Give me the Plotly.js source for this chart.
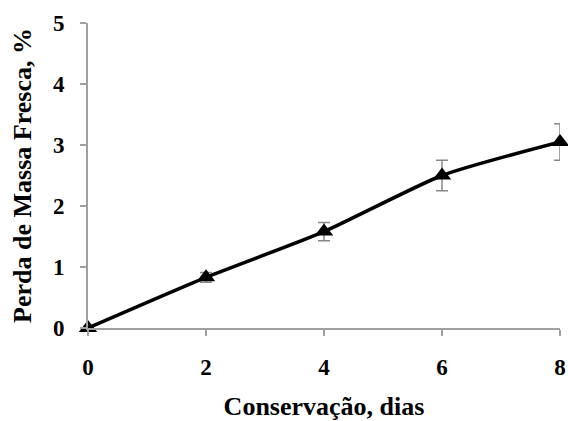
<!DOCTYPE html>
<html>
<head>
<meta charset="utf-8">
<script src="https://cdn.plot.ly/plotly-3.0.1.min.js"></script>
<style>html,body{margin:0;padding:0;background:#fff;}#chart{width:568px;height:421px;}</style>
</head>
<body>
<div id="chart"></div>
<script>
const dias = [0, 2, 4, 6, 8];
const perdaMassa = [0, 0.83, 1.58, 2.5, 3.05];
const desvio = [0, 0.08, 0.15, 0.25, 0.3];
const xTicks = [0, 2, 4, 6, 8];
const yTicks = [0, 1, 2, 3, 4, 5];

const fontFam = '"Liberation Serif", "Times New Roman", serif';

const trace = {
  x: dias,
  y: perdaMassa,
  type: 'scatter',
  mode: 'lines+markers',
  line: {color: '#000', width: 3.5, shape: 'spline', smoothing: 0.6},
  marker: {symbol: 'triangle-up', size: 16, color: '#000'},
  error_y: {type: 'data', array: desvio, visible: true, color: '#888', thickness: 1.5, width: 6},
  cliponaxis: false,
  showlegend: false
};

const layout = {
  width: 568, height: 421,
  margin: {l: 88, r: 8, t: 23, b: 93},
  paper_bgcolor: '#fff', plot_bgcolor: '#fff',
  font: {family: fontFam, color: '#000'},
  xaxis: {
    range: [0, 8], tickvals: xTicks, ticktext: xTicks.map(String),
    showgrid: false, zeroline: false, showline: true, linecolor: '#a0a0a0', linewidth: 2,
    ticks: 'outside', ticklen: 6, tickwidth: 1.5, tickcolor: '#a0a0a0',
    tickfont: {family: fontFam, size: 23, color: '#000', weight: 'bold'},
    ticklabelstandoff: 11,
    title: {text: '<b>Conservação, dias</b>', font: {family: fontFam, size: 26, color: '#000'}, standoff: 20}
  },
  yaxis: {
    range: [0, 5], tickvals: yTicks, ticktext: yTicks.map(String),
    showgrid: false, zeroline: false, showline: true, linecolor: '#a0a0a0', linewidth: 2,
    ticks: 'outside', ticklen: 6, tickwidth: 1.5, tickcolor: '#a0a0a0',
    tickfont: {family: fontFam, size: 23, color: '#000', weight: 'bold'},
    ticklabelstandoff: 11,
    title: {text: '<b>Perda de Massa Fresca, %</b>', font: {family: fontFam, size: 26, color: '#000'}, standoff: 14}
  }
};

Plotly.newPlot('chart', [trace], layout, {displayModeBar: false, staticPlot: true});
</script>
</body>
</html>
